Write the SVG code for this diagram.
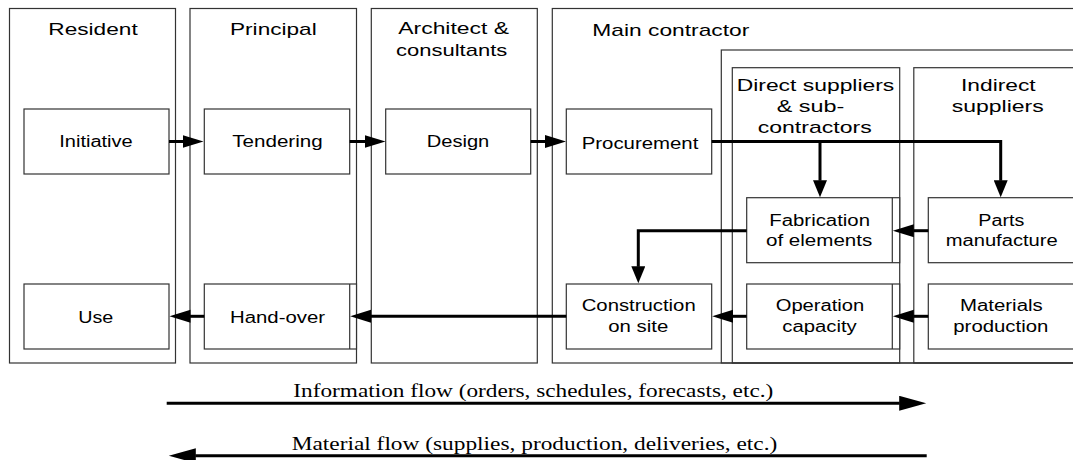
<svg xmlns="http://www.w3.org/2000/svg" width="1073" height="460" viewBox="0 0 1073 460">
<style>
.frame{fill:none;stroke:#333;stroke-width:1.2}
.box{fill:#fff;stroke:#333;stroke-width:1.2}
.edge{fill:none;stroke:#333;stroke-width:1.2}
.hd{font-family:"Liberation Sans",Arial,sans-serif;font-size:17px;fill:#000}
.tx{font-family:"Liberation Sans",Arial,sans-serif;font-size:16px;fill:#000}
.ft{font-family:"Liberation Serif","Times New Roman",serif;font-size:18px;fill:#000}
.con{fill:none;stroke:#000;stroke-width:3}
</style>
<defs>
<marker id="ah" markerUnits="userSpaceOnUse" markerWidth="22" markerHeight="14" refX="0.5" refY="6.5" orient="auto"><path d="M0,0 L21,6.5 L0,13 Z" fill="#000"/></marker>
<marker id="av" markerUnits="userSpaceOnUse" markerWidth="18" markerHeight="14" refX="0.5" refY="7" orient="auto"><path d="M0,0 L17,7 L0,14 Z" fill="#000"/></marker>
<marker id="ab" markerUnits="userSpaceOnUse" markerWidth="28" markerHeight="15" refX="0.5" refY="7.5" orient="auto"><path d="M0,0 L27,7.5 L0,15 Z" fill="#000"/></marker>
</defs>

<g id="frames">
<g id="resident"><rect class="frame" x="9.5" y="8.5" width="166" height="354.5"/><text class="hd" x="48.3" y="35" textLength="89.4" lengthAdjust="spacingAndGlyphs">Resident</text></g>
<g id="principal"><rect class="frame" x="190" y="8.5" width="166.5" height="354.5"/><text class="hd" x="230" y="35" textLength="86.7" lengthAdjust="spacingAndGlyphs">Principal</text></g>
<g id="architect"><rect class="frame" x="371.3" y="8.5" width="166" height="354.5"/><text class="hd" x="398.3" y="34.3" textLength="110.7" lengthAdjust="spacingAndGlyphs">Architect &amp;</text><text class="hd" x="396" y="56" textLength="111.3" lengthAdjust="spacingAndGlyphs">consultants</text></g>
<g id="main-contractor"><rect class="frame" x="552.3" y="8.5" width="530" height="354.5"/><text class="hd" x="592.3" y="35.7" textLength="157" lengthAdjust="spacingAndGlyphs">Main contractor</text></g>
<g id="suppliers"><rect class="frame" x="721.3" y="50" width="360" height="313"/></g>
<g id="direct-suppliers"><rect class="frame" x="732.3" y="67.7" width="167.4" height="295.3"/><text class="hd" x="736.7" y="90.7" textLength="157.6" lengthAdjust="spacingAndGlyphs">Direct suppliers</text><text class="hd" x="776.7" y="111.5" textLength="67.6" lengthAdjust="spacingAndGlyphs">&amp; sub-</text><text class="hd" x="757.7" y="133" textLength="114" lengthAdjust="spacingAndGlyphs">contractors</text></g>
<g id="indirect-suppliers"><rect class="frame" x="913.8" y="67.7" width="170" height="295.3"/><text class="hd" x="961" y="90.7" textLength="74.7" lengthAdjust="spacingAndGlyphs">Indirect</text><text class="hd" x="951.7" y="111.5" textLength="92" lengthAdjust="spacingAndGlyphs">suppliers</text></g>
</g>

<g id="initiative"><rect class="box" x="24" y="109" width="145" height="65"/><text class="tx" x="59.3" y="147" textLength="73.4" lengthAdjust="spacingAndGlyphs">Initiative</text></g>
<g id="tendering"><rect class="box" x="204.3" y="109" width="145.4" height="65"/><text class="tx" x="232.3" y="147" textLength="90.4" lengthAdjust="spacingAndGlyphs">Tendering</text></g>
<g id="design"><rect class="box" x="385.7" y="109" width="145" height="65"/><text class="tx" x="426.7" y="147" textLength="62.6" lengthAdjust="spacingAndGlyphs">Design</text></g>
<g id="procurement"><rect class="box" x="566.3" y="109" width="145.4" height="65"/><text class="tx" x="581.7" y="148.5" textLength="116.6" lengthAdjust="spacingAndGlyphs">Procurement</text></g>
<g id="use"><rect class="box" x="24" y="284" width="145" height="65"/><text class="tx" x="78.3" y="322.5" textLength="35" lengthAdjust="spacingAndGlyphs">Use</text></g>
<g id="hand-over"><rect class="box" x="204.3" y="284" width="152.2" height="65"/><line class="edge" x1="349.7" y1="284" x2="349.7" y2="349"/><text class="tx" x="230" y="322.5" textLength="95" lengthAdjust="spacingAndGlyphs">Hand-over</text></g>
<g id="construction"><rect class="box" x="566.3" y="284" width="145.4" height="65"/><text class="tx" x="581.7" y="311" textLength="114" lengthAdjust="spacingAndGlyphs">Construction</text><text class="tx" x="608.3" y="331.7" textLength="60" lengthAdjust="spacingAndGlyphs">on site</text></g>
<g id="fabrication"><rect class="box" x="746.7" y="197.7" width="153" height="65"/><line class="edge" x1="892.3" y1="197.7" x2="892.3" y2="262.7"/><text class="tx" x="769.3" y="226" textLength="100.7" lengthAdjust="spacingAndGlyphs">Fabrication</text><text class="tx" x="766" y="245.7" textLength="106.3" lengthAdjust="spacingAndGlyphs">of elements</text></g>
<g id="operation"><rect class="box" x="746.7" y="284" width="153" height="65"/><line class="edge" x1="892.3" y1="284" x2="892.3" y2="349"/><text class="tx" x="775.7" y="311" textLength="88.6" lengthAdjust="spacingAndGlyphs">Operation</text><text class="tx" x="782.3" y="331.7" textLength="74.4" lengthAdjust="spacingAndGlyphs">capacity</text></g>
<g id="parts"><rect class="box" x="928.3" y="197.7" width="150" height="65"/><text class="tx" x="978.3" y="225.7" textLength="46" lengthAdjust="spacingAndGlyphs">Parts</text><text class="tx" x="945.7" y="245.7" textLength="112" lengthAdjust="spacingAndGlyphs">manufacture</text></g>
<g id="materials"><rect class="box" x="928.3" y="284" width="150" height="65"/><text class="tx" x="960" y="311" textLength="82.7" lengthAdjust="spacingAndGlyphs">Materials</text><text class="tx" x="953.3" y="332" textLength="95" lengthAdjust="spacingAndGlyphs">production</text></g>

<g id="connectors">
<path class="con" d="M169,141.5 H183" marker-end="url(#ah)"/>
<path class="con" d="M349.7,141.5 H365" marker-end="url(#ah)"/>
<path class="con" d="M530.7,141.5 H545.5" marker-end="url(#ah)"/>
<path class="con" d="M711.7,141.5 H1000.7 V180.7" marker-end="url(#av)"/>
<path class="con" d="M820,141.5 V180.7" marker-end="url(#av)"/>
<path class="con" d="M746.7,230.7 H638.3 V266.7" marker-end="url(#av)"/>
<path class="con" d="M928.3,230.7 H913.3" marker-end="url(#ah)"/>
<path class="con" d="M928.3,316.3 H913.3" marker-end="url(#ah)"/>
<path class="con" d="M746.7,316.3 H732.7" marker-end="url(#ah)"/>
<path class="con" d="M566.3,316.3 H370.7" marker-end="url(#ah)"/>
<path class="con" d="M204.3,316.3 H190" marker-end="url(#ah)"/>
</g>

<g id="legend">
<path class="con" d="M166.7,403.3 H899.7" marker-end="url(#ab)"/>
<text class="ft" x="293.3" y="397" textLength="480" lengthAdjust="spacingAndGlyphs">Information flow (orders, schedules, forecasts, etc.)</text>
<path class="con" d="M926.7,455.7 H195.3" marker-end="url(#ab)"/>
<text class="ft" x="291.7" y="449.5" textLength="485.6" lengthAdjust="spacingAndGlyphs">Material flow (supplies, production, deliveries, etc.)</text>
</g>
</svg>
